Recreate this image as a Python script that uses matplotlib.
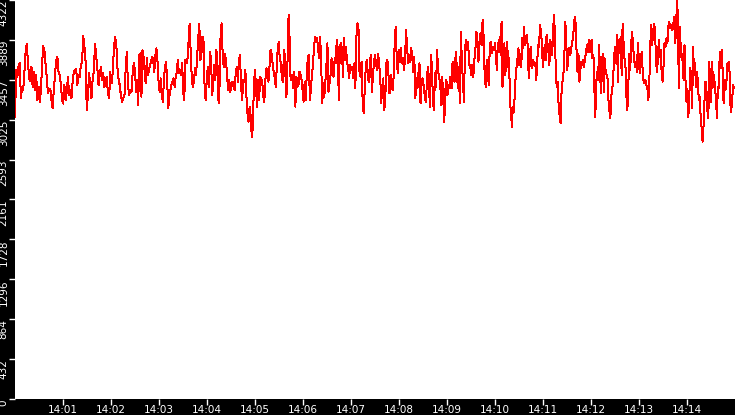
import matplotlib
matplotlib.use("Agg")
import matplotlib.pyplot as plt
import matplotlib.dates as mdates
import numpy as np
import pandas as pd

# readings, one list per 2.5 minute window (14:00:00 .. 14:15:00)
vals_1400 = [3050, 3560, 3490, 3600, 3640, 3260, 3380, 3350, 3540, 3760, 3850, 3650, 3470, 3440,
             3600, 3380, 3540, 3350, 3510, 3240, 3380, 3220, 3330, 3620, 3820, 3780, 3620, 3490,
             3310, 3360, 3360, 3240, 3150, 3350, 3510, 3670, 3710, 3540, 3510, 3400, 3240, 3200,
             3400, 3240, 3330, 3490, 3290, 3350, 3260, 3440, 3550, 3560, 3580, 3400, 3510, 3490,
             3620, 3640, 3930, 3820, 3650, 3130, 3290, 3530, 3400, 3260, 3470, 3550, 3850, 3710,
             3580, 3400, 3510, 3600, 3460, 3530, 3380, 3470, 3490, 3310, 3260, 3540, 3420, 3530,
             3780, 3920, 3870, 3600, 3470, 3400, 3290, 3220, 3260, 3280, 3560, 3760, 3400, 3290,
             3350, 3330, 3530, 3640]
vals_1402 = [3563, 3328, 3455, 3184, 3725, 3743, 3274, 3780, 3707, 3545, 3419, 3689, 3509, 3563,
             3617, 3653, 3707, 3671, 3545, 3725, 3798, 3653, 3437, 3328, 3473, 3310, 3220, 3455,
             3599, 3653, 3455, 3148, 3274, 3346, 3400, 3437, 3473, 3382, 3491, 3545, 3671, 3527,
             3563, 3509, 3635, 3328, 3238, 3671, 3635, 3689, 3888, 4068, 3743, 3473, 3382, 3437,
             3581, 3509, 3707, 3906, 4068, 3671, 3743, 3924, 3870, 3346, 3238, 3473, 3599, 3382,
             3761, 3671, 3292, 3419, 3617, 3455, 3780, 3617, 3202, 3419, 4032, 4068, 3653, 3599,
             3743, 3653, 3491, 3346, 3455, 3328, 3400, 3437, 3382, 3346, 3527, 3599, 3437, 3671,
             3725, 3400, 3238, 3455, 3437, 3563, 3274, 3094, 3003, 3166, 3057, 2841, 2949, 3419]
vals_1405 = [3563, 3364, 3166, 3455, 3238, 3491, 3473, 3437, 3274, 3220, 3455, 3581, 3545, 3437,
             3599, 3780, 3743, 3635, 3545, 3491, 3382, 3581, 3816, 3870, 3671, 3653, 3473, 3437,
             3780, 3707, 3274, 3328, 4104, 4159, 3509, 3455, 3509, 3364, 3545, 3166, 3491, 3382,
             3400, 3545, 3509, 3455, 3346, 3220, 3437, 3238, 3509, 3689, 3725, 3238, 3346, 3509,
             3617, 3798, 3924, 3870, 3906, 3798, 3689, 3924, 3617, 3202, 3419, 3274, 3437, 3599,
             3852, 3328, 3419, 3509, 3689, 3545, 3491, 3689, 3635, 3888, 3798, 3238, 3816, 3852,
             3798, 3491, 3906, 3671, 3816, 3635, 3599, 3473, 3617, 3563, 3599, 3473, 3635, 3364,
             3924, 4068, 4032, 3545, 3491, 3653, 3238, 3094, 3346, 3581, 3671, 3491, 3437, 3635,
             3725, 3328, 3491, 3653]
vals_1407 = [3725, 3635, 3563, 3743, 3617, 3509, 3202, 3382, 3473, 3130, 3274, 3635, 3671, 3509,
             3310, 3509, 3455, 3346, 3491, 3852, 4032, 3689, 3527, 3780, 3653, 3798, 3635, 3689,
             3563, 3671, 3996, 3816, 3635, 3725, 3653, 3798, 3707, 3545, 3707, 3256, 3473, 3364,
             3527, 3635, 3202, 3400, 3473, 3400, 3292, 3220, 3382, 3599, 3473, 3166, 3725, 3617,
             3220, 3130, 3527, 3382, 3780, 3563, 3473, 3437, 3184, 3491, 3238, 3003, 3346, 3455,
             3292, 3400, 3364, 3491, 3364, 3653, 3473, 3437, 3761, 3617, 3364, 3599, 3202, 3978,
             3653, 3437, 3220, 3798, 3888, 3780, 3870, 3617, 3617, 3509, 3617, 3491, 3671, 3780,
             3978, 3888, 3653, 3852, 3960, 3834, 4104, 3924, 3509, 3382, 3671, 3545, 3400, 3852,
             3870, 3743, 3816, 3780]
vals_1410 = [3852, 3707, 3563, 3852, 3780, 3924, 3725, 4086, 3382, 3599, 3852, 3509, 3689, 3870,
             3599, 3689, 3220, 3112, 2949, 3166, 3112, 3274, 3491, 3599, 3689, 3798, 3617, 3743,
             3599, 3906, 3798, 4032, 3834, 3906, 3942, 3798, 3473, 3635, 3816, 3581, 3671, 3653,
             3617, 3635, 3455, 3635, 3834, 3816, 4050, 3978, 3852, 3599, 3689, 3834, 3671, 3942,
             3852, 3761, 3617, 3888, 3834, 3725, 4014, 4159, 3924, 3473, 3382, 3437, 3130, 3076,
             2985, 3328, 3437, 3527, 3725, 4086, 3888, 3563, 3671, 3798, 3725, 3761, 3852, 3906,
             4014, 4141, 4068, 3761, 3545, 3743, 3437, 3563, 3653, 3617, 3671, 3599, 3689, 3743,
             3834, 3761, 3888, 3761, 3816, 3888, 3689, 3725, 3364, 3057, 3437, 3545, 3455, 3834,
             3563, 3310, 3635, 3743, 3328, 3689, 3545, 3509, 3473, 3238, 3130, 3039, 3274, 3346,
             3455, 3707]
vals_1412 = [3816, 3635, 3942, 3437, 3888, 3834, 3924, 3509, 4068, 3852, 3689, 3599, 3274, 3130,
             3400, 3743, 3563, 3852, 3978, 3816, 3689, 3599, 3653, 3545, 3852, 3689, 3527, 3653,
             3761, 3563, 3437, 3419, 3455, 3400, 3364, 3238, 3419, 3816, 4050, 3834, 3978, 4068,
             3996, 3689, 3545, 3671, 3888, 3707, 3780, 3527, 3437, 3617, 3852, 3816, 3906, 3852,
             4032, 4086, 4014, 4050, 3996, 4032, 4141, 3852, 3960, 4322, 4159, 3364, 4032, 3816,
             3671, 3743, 3455, 3834, 3455, 3220, 3364, 3057, 3274, 3581, 3491, 3148, 3816, 3527,
             3635, 3382, 3545, 3437, 3238, 3274, 3039, 2931, 2787, 2967, 3238, 3437, 3346, 3130,
             3039, 3653, 3346, 3220, 3653, 3382, 3509, 3364, 3256, 3039, 3382, 3364, 3761, 3581,
             3780, 3563, 3202, 3455, 3346, 3437, 3635, 3563, 3653, 3202, 3112, 3238, 3400, 3364]

windows = [vals_1400, vals_1402, vals_1405, vals_1407, vals_1410, vals_1412]
start = pd.Timestamp("2024-01-01 14:00:00")
win_len = 150  # seconds per window

times = []
values = []
for k, w in enumerate(windows):
    offs = np.linspace(0, win_len, len(w), endpoint=False) + k * win_len
    times.extend(start + pd.to_timedelta(offs, unit="s"))
    values.extend(w)
times = pd.DatetimeIndex(times)
values = np.array(values, dtype=float)

top = values.max()

fig = plt.figure(figsize=(7.35, 4.15), dpi=100, facecolor="black")
ax = fig.add_axes([15 / 735, 16 / 415, 720 / 735, 399 / 415])
ax.set_facecolor("white")
ax.plot(times, values, color="red", linewidth=0.72, antialiased=False)

ax.set_xlim(start, start + pd.Timedelta(minutes=15))
ax.set_ylim(0, top)

for s in ax.spines.values():
    s.set_visible(False)

xt = [start + pd.Timedelta(minutes=m) for m in range(1, 15)]
ax.set_xticks(xt)
ax.xaxis.set_major_formatter(mdates.DateFormatter("%H:%M"))

yt = [top * i / 10 for i in range(11)]
ax.set_yticks(yt)
ax.set_yticklabels([str(int(v)) for v in yt], rotation=90, va="top")

ax.tick_params(colors="white", labelcolor="white", direction="out", length=4, width=1,
               labelsize=7.5, pad=0.5)

fig.savefig("out.png", dpi=100, facecolor="black")
